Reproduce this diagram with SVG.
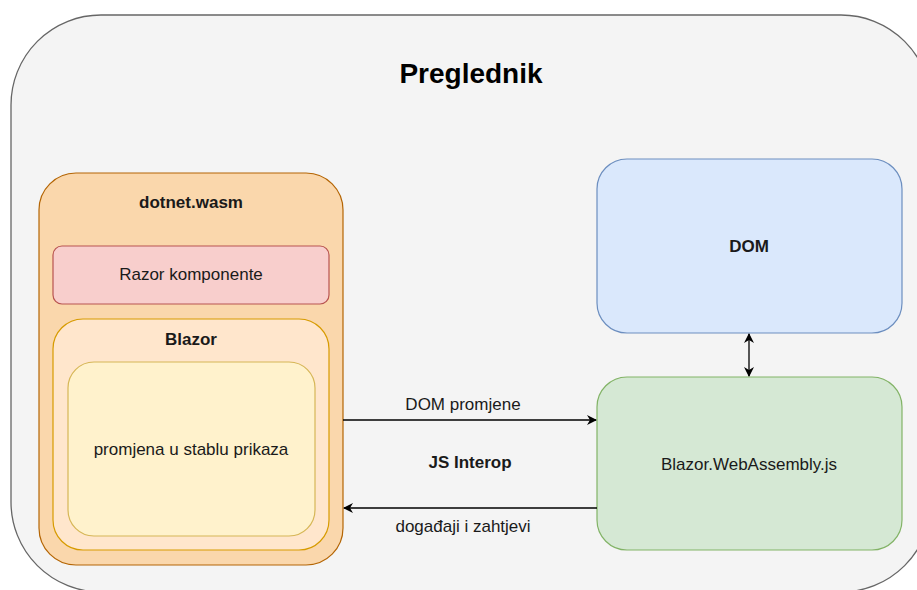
<svg xmlns="http://www.w3.org/2000/svg" width="917" height="590" viewBox="0 0 917 590">
  <style>
    text { font-family: "Liberation Sans", Arial, sans-serif; fill: #1a1a1a; text-anchor: middle; }
    .lbl { font-size: 17px; }
    .b { font-size: 17px; font-weight: bold; }
    .title { font-size: 28px; font-weight: bold; fill: #000; }
    .conn { stroke: #000; stroke-width: 1.3; fill: none; }
  </style>
  <defs>
    <marker id="arr" viewBox="0 0 10 10" refX="9" refY="5" markerWidth="10" markerHeight="10" markerUnits="userSpaceOnUse" orient="auto-start-reverse">
      <path d="M0,0 L10,5 L0,10 L3,5 Z" fill="#000"/>
    </marker>
  </defs>

  <g id="preglednik">
    <rect x="11" y="15" width="920" height="577" rx="90" ry="90" fill="#f4f4f4" stroke="#666666" stroke-width="1.3"/>
    <text class="title" x="471" y="83">Preglednik</text>
  </g>

  <g id="dotnet-wasm">
    <rect x="39" y="173" width="304" height="392" rx="37" ry="37" fill="#fad7ac" stroke="#b46504" stroke-width="1.2"/>
    <text class="b" x="191" y="208">dotnet.wasm</text>
  </g>

  <g id="razor-komponente">
    <rect x="53" y="246" width="276" height="58" rx="9" ry="9" fill="#f8cecc" stroke="#b85450" stroke-width="1.2"/>
    <text class="lbl" x="191" y="280">Razor komponente</text>
  </g>

  <g id="blazor">
    <rect x="53" y="319" width="276" height="231" rx="30" ry="30" fill="#ffe6cc" stroke="#d79b00" stroke-width="1.2"/>
    <text class="b" x="191" y="345">Blazor</text>
  </g>

  <g id="promjena">
    <rect x="68" y="362" width="247" height="174" rx="26" ry="26" fill="#fff2cc" stroke="#d6b656" stroke-width="1.2"/>
    <text class="lbl" x="191" y="455">promjena u stablu prikaza</text>
  </g>

  <g id="dom">
    <rect x="597" y="159" width="305" height="174" rx="30" ry="30" fill="#dae8fc" stroke="#6c8ebf" stroke-width="1.2"/>
    <text class="b" x="749" y="252">DOM</text>
  </g>

  <g id="blazor-webassembly-js">
    <rect x="597" y="377" width="305" height="173" rx="30" ry="30" fill="#d5e8d4" stroke="#82b366" stroke-width="1.2"/>
    <text class="lbl" x="749" y="470">Blazor.WebAssembly.js</text>
  </g>

  <g id="connectors">
    <line class="conn" x1="343" y1="420" x2="596" y2="420" marker-end="url(#arr)"/>
    <line class="conn" x1="597" y1="508" x2="344" y2="508" marker-end="url(#arr)"/>
    <line class="conn" x1="749" y1="334" x2="749" y2="376" marker-start="url(#arr)" marker-end="url(#arr)"/>
    <text class="lbl" x="463" y="410">DOM promjene</text>
    <text class="b" x="470" y="468">JS Interop</text>
    <text class="lbl" x="463" y="532">događaji i zahtjevi</text>
  </g>
</svg>
